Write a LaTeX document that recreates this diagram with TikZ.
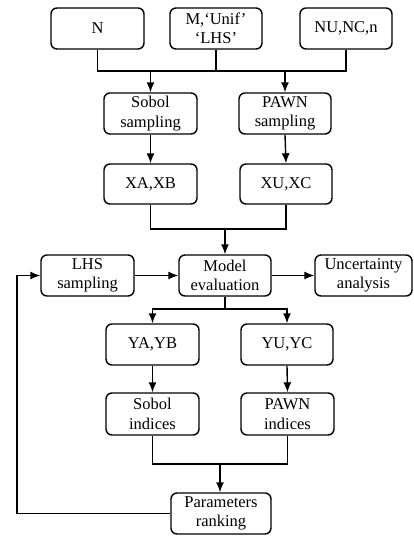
\documentclass[tikz,border=0pt]{standalone}
\usepackage{fontspec}
\setmainfont{Liberation Serif}
\usetikzlibrary{arrows.meta}
\begin{document}
\begin{tikzpicture}[x=1pt,y=-1pt,
  box/.style={draw,line width=1.4pt,rounded corners=6pt,inner sep=0pt,
    minimum width=93pt,minimum height=41pt,align=center,
    font=\fontsize{16.5}{19.5}\selectfont},
  ln/.style={line width=1.4pt},
  arr/.style={line width=1.4pt,-{Latex[length=10pt,width=8pt]}}]
\useasboundingbox (0,0) rectangle (414,536);
% nodes
\node[box] (N) at (97.5,28.5) {N};
\node[box,minimum width=92pt] (M) at (216,28.5) {M,‘Unif’\\‘LHS’};
\node[box,minimum width=92pt] (NU) at (346,28.5) {NU,NC,n};
\node[box] (SS) at (150.5,113.5) {Sobol\\sampling};
\node[box,minimum width=92pt] (PS) at (285,113.5) {PAWN\\sampling};
\node[box,minimum height=40pt] (XA) at (150.5,184) {XA,XB};
\node[box,minimum width=92pt,minimum height=40pt] (XU) at (286,184) {XU,XC};
\node[box] (LHS) at (87.5,275.5) {LHS\\sampling};
\node[box,minimum width=92pt] (ME) at (225,275.5) {Model\\evaluation};
\node[box,minimum width=97pt] (UA) at (363.5,275.5) {Uncertainty\\analysis};
\node[box] (YA) at (152.5,344.5) {YA,YB};
\node[box,minimum width=92pt] (YU) at (287,344.5) {YU,YC};
\node[box,minimum height=42pt] (SI) at (152.5,414) {Sobol\\indices};
\node[box,minimum height=42pt] (PI) at (287.5,414) {PAWN\\indices};
\node[box,minimum width=100pt] (PR) at (221,513.5) {Parameters\\ranking};
% junction coordinates
\coordinate (j1) at (216,71);
\coordinate (j2) at (225,229);
\coordinate (j3) at (225,309);
\coordinate (j4) at (220,464);
\coordinate (fb) at (17,513.5);
% top inputs
\draw[ln] (N.south) |- (j1) -| (NU.south);
\draw[ln] (M.south) -- (j1);
\draw[arr] (SS.north |- j1) -- (SS.north);
\draw[arr] (PS.north |- j1) -- (PS.north);
\draw[arr] (SS) -- (XA);
\draw[arr] (PS.south) -- (XU.north);
% to model
\draw[ln] (XA.south) |- (j2) -| (XU.south);
\draw[arr] (j2) -- (ME.north);
\draw[arr] (LHS) -- (ME);
\draw[arr] (ME) -- (UA);
% outputs
\draw[ln] (ME.south) -- (j3);
\draw[arr] (j3) -| (YA.north);
\draw[arr] (j3) -| (YU.north);
\draw[arr] (YA) -- (SI);
\draw[arr] (YU.south) -- (PI.north);
\draw[ln] (SI.south) |- (j4) -| (PI.south);
\draw[arr] (j4) -- (PR.north -| j4);
% feedback
\draw[arr] (PR.west) -- (fb) |- (LHS.west);
\end{tikzpicture}
\end{document}
